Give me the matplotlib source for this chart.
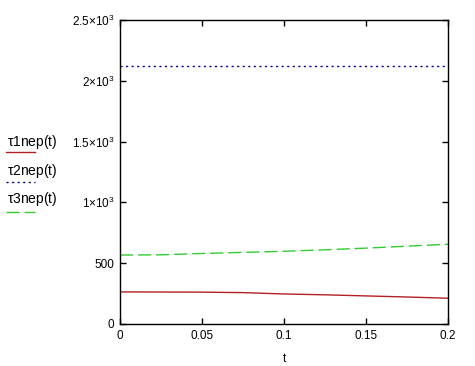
import matplotlib
matplotlib.use('Agg')
import matplotlib.pyplot as plt
from matplotlib.lines import Line2D

plt.rcParams['font.family'] = ['Liberation Sans', 'DejaVu Sans']
plt.rcParams['mathtext.fontset'] = 'custom'
plt.rcParams['mathtext.rm'] = 'Liberation Sans'
plt.rcParams['mathtext.it'] = 'Liberation Sans'
fontsize = 8.5

t = [0, 0.025, 0.05, 0.075, 0.1, 0.125, 0.15, 0.175, 0.2]
tau1 = [264, 263, 262, 258, 247, 240, 231, 222, 212]
tau2 = [2120] * len(t)
tau3 = [567, 569, 580, 589, 598, 610, 624, 640, 656]

xticks = [0, 0.05, 0.1, 0.15, 0.2]
xlabels = ['0', '0.05', '0.1', '0.15', '0.2']
yticks = [0, 500, 1000, 1500, 2000, 2500]
ylabels = ['0', '500', r'$1{\times}10^3$', r'$1.5{\times}10^3$', r'$2{\times}10^3$', r'$2.5{\times}10^3$']

names = [r'$\tau$1nep(t)', r'$\tau$2nep(t)', r'$\tau$3nep(t)']
colors = ['#b22222', '#00008b', '#33cc33']
styles = ['-', (0, (1.5, 2.5)), (0, (9.5, 3.5))]

fig = plt.figure(figsize=(4.75, 3.66), dpi=100)
ax = fig.add_axes([120/475, 1-324/366, 328/475, 304/366])

ax.plot(t, tau1, color=colors[0], linestyle=styles[0], linewidth=1)
ax.plot(t, tau2, color=colors[1], linestyle=styles[1], linewidth=1)
ax.plot(t, tau3, color=colors[2], linestyle=styles[2], linewidth=1)

ax.set_xlim(0, 0.2)
ax.set_ylim(0, 2500)
ax.set_xticks(xticks)
ax.set_xticklabels(xlabels, fontsize=fontsize)
ax.set_yticks(yticks)
ax.set_yticklabels(ylabels, fontsize=fontsize)
ax.tick_params(direction='in', length=4, width=1, top=True, right=True, pad=4)
for s in ax.spines.values():
    s.set_linewidth(1)
ax.set_xlabel('t', fontsize=fontsize, labelpad=8)

# legend on the left, label above line sample
label_y = [142, 171, 199]
line_y = [152, 182, 212]
for name, c, ls, ly, sy in zip(names, colors, styles, label_y, line_y):
    fig.text(7/475, 1-ly/366, name, fontsize=10, va='center', ha='left')
    fig.add_artist(Line2D([6/475, 35/475], [1-sy/366, 1-sy/366], color=c,
                          linestyle=ls, linewidth=1, transform=fig.transFigure))

plt.savefig('out.png', dpi=100)
